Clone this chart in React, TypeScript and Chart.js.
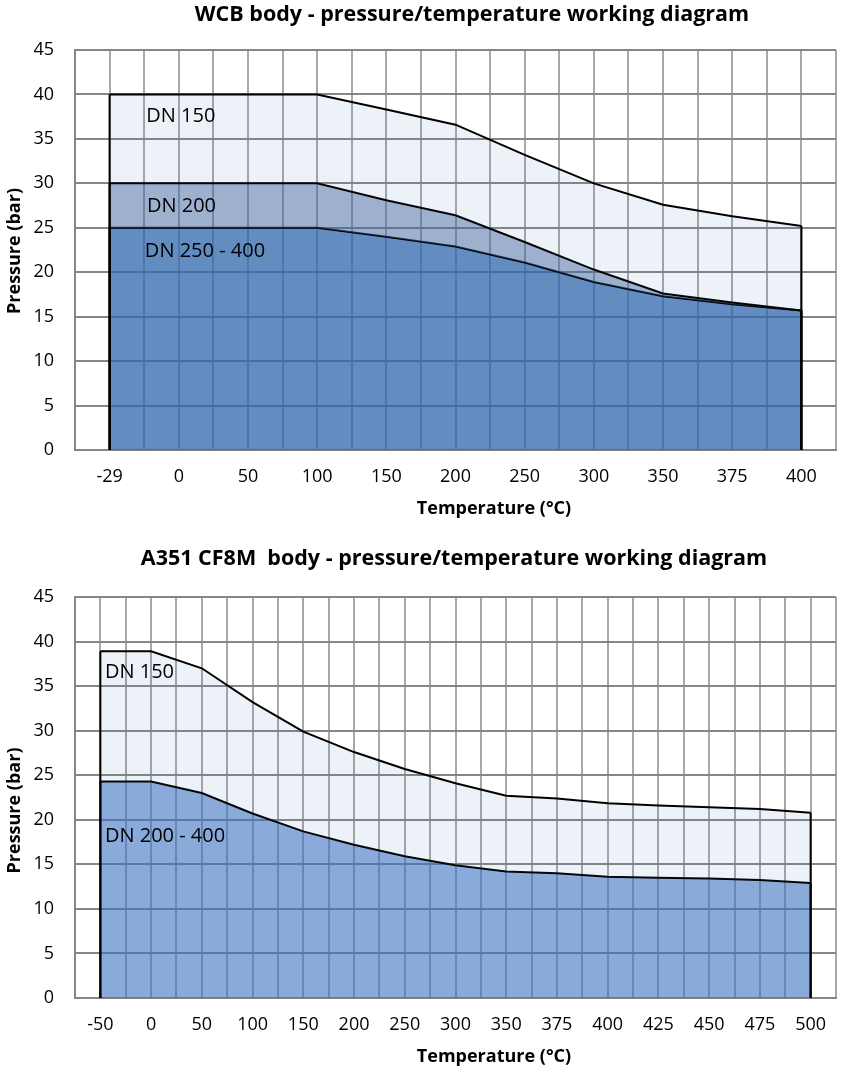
import React, { useEffect, useRef } from "react";
import { Chart, registerables } from "chart.js";

Chart.register(...registerables);

// ---------- data ----------
const wcbTemps = ["-29", "0", "50", "100", "150", "200", "250", "300", "350", "375", "400"];
const wcbDN150 = [40, 40, 40, 40, 38.3, 36.6, 33.2, 30.0, 27.6, 26.3, 25.2];
const wcbDN200 = [30, 30, 30, 30, 28.1, 26.4, 23.4, 20.3, 17.6, 16.6, 15.7];
const wcbDN250 = [25, 25, 25, 25, 24.0, 22.9, 21.1, 18.9, 17.3, 16.4, 15.7];

const cf8mTemps = ["-50", "0", "50", "100", "150", "200", "250", "300", "350", "375", "400", "425", "450", "475", "500"];
const cf8mDN150 = [38.9, 38.9, 37.0, 33.2, 29.9, 27.6, 25.7, 24.1, 22.7, 22.4, 21.85, 21.6, 21.4, 21.2, 20.8];
const cf8mDN200 = [24.3, 24.3, 23.0, 20.7, 18.7, 17.2, 15.9, 14.9, 14.2, 14.0, 13.6, 13.5, 13.4, 13.25, 12.9];

const pressureMax = 45;
const pressureStep = 5;

const wcbTitle = "WCB body - pressure/temperature working diagram";
const cf8mTitle = "A351 CF8M  body - pressure/temperature working diagram";
const xTitle = "Temperature (°C)";
const yTitle = "Pressure (bar)";

const FONT = '"Open Sans", "Liberation Sans", sans-serif';

const overlayPlugin = {
  id: "overlay",
  afterDatasetsDraw(chart: any, _args: any, opts: any) {
    const ctx = chart.ctx;
    const xS = chart.scales.x;
    const yS = chart.scales.y;
    const base = yS.getPixelForValue(0);
    ctx.save();
    ctx.strokeStyle = "#000";
    ctx.lineWidth = 2;
    chart.data.datasets.forEach((_ds: any, i: number) => {
      const pts = chart.getDatasetMeta(i).data;
      if (!pts.length) return;
      const first = pts[0];
      const last = pts[pts.length - 1];
      ctx.beginPath();
      ctx.moveTo(first.x, first.y);
      ctx.lineTo(first.x, base);
      ctx.moveTo(last.x, last.y);
      ctx.lineTo(last.x, base);
      ctx.stroke();
    });
    ctx.fillStyle = "#000";
    ctx.font = `20px ${FONT}`;
    ctx.textAlign = "left";
    ctx.textBaseline = "middle";
    (opts.labels || []).forEach((l: any) => {
      ctx.fillText(l.text, xS.getPixelForValue(l.x), yS.getPixelForValue(l.y));
    });
    ctx.restore();
  },
  afterDraw(chart: any, _args: any, opts: any) {
    const ctx = chart.ctx;
    ctx.save();
    ctx.fillStyle = "#000";
    ctx.textAlign = "center";
    ctx.textBaseline = "middle";
    ctx.font = `bold 21.5px ${FONT}`;
    ctx.fillText(opts.title, opts.titleX, opts.titleY);
    ctx.font = `bold 18px ${FONT}`;
    ctx.fillText(xTitle, opts.xTitleX, opts.xTitleY);
    ctx.translate(opts.yTitleX, opts.yTitleY);
    ctx.rotate(-Math.PI / 2);
    ctx.fillText(yTitle, 0, 0);
    ctx.restore();
  },
};

type Spec = {
  temps: string[];
  series: { data: number[]; fill: any; color: string }[];
  title: string;
  titleX: number;
  titleY: number;
  xTitleX: number;
  xTitleY: number;
  yTitleX: number;
  yTitleY: number;
  plotTop: number;
  xAxisHeight: number;
  labels: { text: string; x: number; y: number }[];
};

function makeConfig(s: Spec): any {
  return {
    type: "line",
    data: {
      datasets: s.series.map((sr) => ({
        data: sr.data.map((v, i) => ({ x: i, y: v })),
        borderColor: "#000",
        borderWidth: 2,
        backgroundColor: sr.color,
        fill: sr.fill,
        pointRadius: 0,
        tension: 0,
      })),
    },
    options: {
      responsive: false,
      animation: false,
      layout: { padding: { top: s.plotTop, right: 6, left: 0, bottom: 0 } },
      plugins: {
        legend: { display: false },
        tooltip: { enabled: false },
        title: { display: false },
        overlay: {
          labels: s.labels,
          title: s.title,
          titleX: s.titleX,
          titleY: s.titleY,
          xTitleX: s.xTitleX,
          xTitleY: s.xTitleY,
          yTitleX: s.yTitleX,
          yTitleY: s.yTitleY,
        },
      },
      scales: {
        x: {
          type: "linear",
          min: -0.5,
          max: s.temps.length - 0.5,
          afterFit: (sc: any) => {
            sc.height = s.xAxisHeight;
          },
          grid: { color: "#A8A8A8", lineWidth: 2, drawTicks: false },
          border: { color: "#868686", width: 2 },
          ticks: {
            stepSize: 0.5,
            autoSkip: false,
            maxRotation: 0,
            padding: 6,
            color: "#000",
            font: { family: FONT, size: 18, lineHeight: 2.33 },
            callback: (v: number) => {
              const i = Math.round(v);
              return Math.abs(v - i) < 1e-6 && i >= 0 && i < s.temps.length ? s.temps[i] : "";
            },
          },
          title: { display: false },
        },
        y: {
          min: 0,
          max: pressureMax,
          afterFit: (sc: any) => {
            sc.width = 75;
          },
          grid: { color: "#868686", lineWidth: 2, drawTicks: false },
          border: { color: "#868686", width: 2 },
          ticks: {
            stepSize: pressureStep,
            padding: 21,
            color: "#000",
            font: { family: FONT, size: 18 },
          },
          title: { display: false },
        },
      },
    },
    plugins: [overlayPlugin],
  };
}

function ChartCanvas({ spec, top }: { spec: Spec; top: number }) {
  const ref = useRef<HTMLCanvasElement | null>(null);
  useEffect(() => {
    if (!ref.current) return;
    const chart = new Chart(ref.current, makeConfig(spec));
    return () => chart.destroy();
  }, []);
  return (
    <canvas
      ref={ref}
      width={842}
      height={536}
      style={{ position: "absolute", left: 0, top, width: 842, height: 536, display: "block" }}
    />
  );
}

const wcbSpec: Spec = {
  temps: wcbTemps,
  series: [
    { data: wcbDN150, fill: "+1", color: "rgba(79,129,189,0.1)" },
    { data: wcbDN200, fill: "+1", color: "rgba(59,99,159,0.5)" },
    { data: wcbDN250, fill: "origin", color: "rgba(47,102,172,0.75)" },
  ],
  title: wcbTitle,
  titleX: 472,
  titleY: 15,
  xTitleX: 494,
  xTitleY: 509,
  yTitleX: 15,
  yTitleY: 251,
  plotTop: 50,
  xAxisHeight: 86,
  labels: [
    { text: "DN 150", x: 0.53, y: 37.5 },
    { text: "DN 200", x: 0.54, y: 27.45 },
    { text: "DN 250 - 400", x: 0.51, y: 22.3 },
  ],
};

const cf8mSpec: Spec = {
  temps: cf8mTemps,
  series: [
    { data: cf8mDN150, fill: "+1", color: "rgba(79,129,189,0.1)" },
    { data: cf8mDN200, fill: "origin", color: "rgba(60,113,193,0.6)" },
  ],
  title: cf8mTitle,
  titleX: 454,
  titleY: 23,
  xTitleX: 494,
  xTitleY: 521,
  yTitleX: 15,
  yTitleY: 274.5,
  plotTop: 61,
  xAxisHeight: 74,
  labels: [
    { text: "DN 150", x: 0.09, y: 36.5 },
    { text: "DN 200 - 400", x: 0.09, y: 18.1 },
  ],
};

export default function App() {
  return (
    <div style={{ position: "absolute", left: 0, top: 0, width: 842, height: 1072, background: "#fff" }}>
      <ChartCanvas spec={wcbSpec} top={0} />
      <ChartCanvas spec={cf8mSpec} top={536} />
    </div>
  );
}
